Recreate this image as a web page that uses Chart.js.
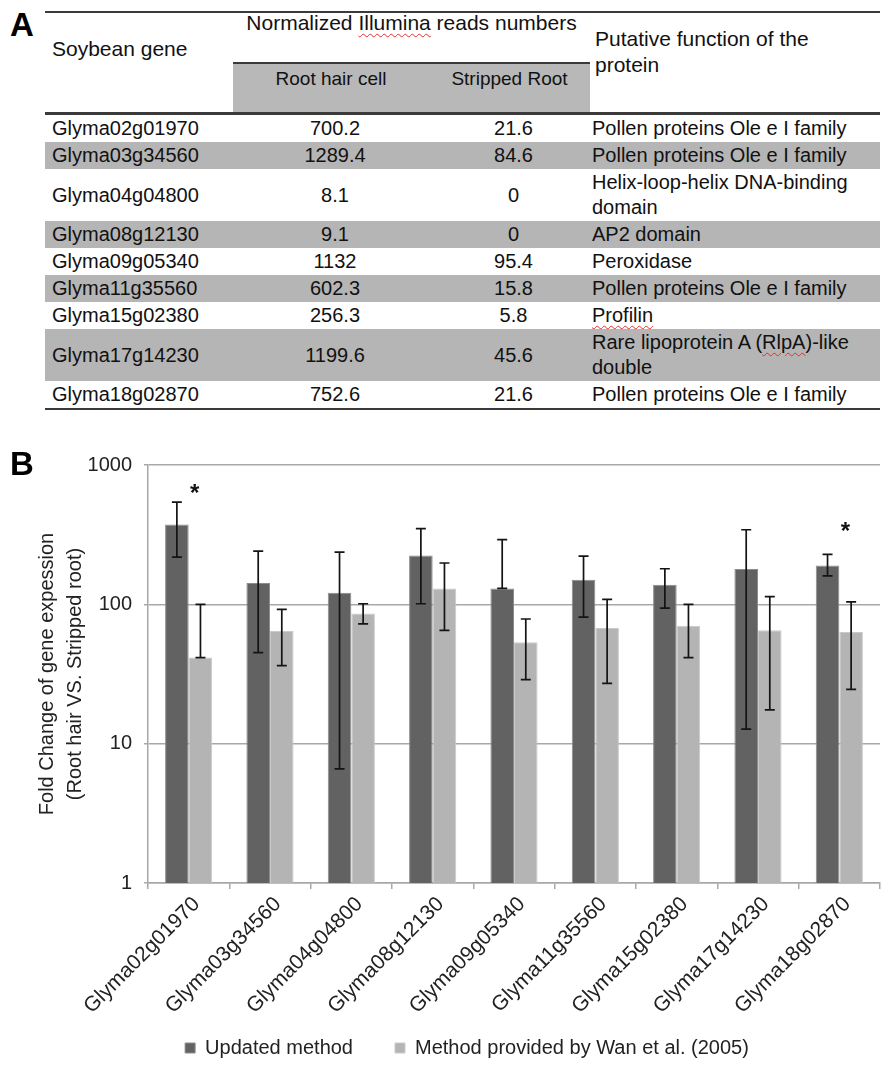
<!DOCTYPE html>
<html>
<head>
<meta charset="utf-8">
<script src="https://cdn.jsdelivr.net/npm/chart.js@4.4.1/dist/chart.umd.min.js"></script>
<style>
body { margin: 0; background: #fff; font-family: "Liberation Sans", Arial, sans-serif; color: #111; }
#page { position: relative; width: 892px; height: 1072px; overflow: hidden; }
.panel { position: absolute; left: 10px; font-weight: bold; font-size: 33px; line-height: 32px; color: #000; z-index: 2; }
.cell { position: absolute; font-size: 21px; }
.sub { font-size: 19px; }
.sp { text-decoration: underline wavy #e03030; text-decoration-thickness: 1px; text-underline-offset: 3px; }
.rule { position: absolute; background: #3a3a3a; }
#rows { position: absolute; left: 45px; top: 115px; width: 835px; }
.row { display: flex; align-items: center; font-size: 20px; line-height: 25px; padding: 1px 0; }
.row.shade { background: #b5b5b5; }
.c-gene { width: 181px; padding-left: 7px; }
.c-root { width: 204px; text-align: center; }
.c-strip { width: 153px; text-align: center; }
.c-func { width: 288px; padding-left: 2px; }
#chart-wrap { position: absolute; left: 0; top: 430px; width: 892px; height: 642px; }
</style>
</head>
<body>
<div id="page">
  <div class="panel" style="top:9px">A</div>
  <div class="panel" style="top:448px">B</div>

  <div class="rule" style="left:45px; top:11px; width:835px; height:2px"></div>
  <div class="cell" style="left:52px; top:37px">Soybean gene</div>
  <div class="cell" style="left:233px; top:11px; width:357px; text-align:center">Normalized <span class="sp">Illumina</span> reads numbers</div>
  <div class="cell" style="left:595px; top:26px; line-height:26px">Putative function of the<br>protein</div>
  <div style="position:absolute; left:233px; top:62px; width:357px; height:51px; background:#b8b8b8; border-top:2px solid #3a3a3a; box-sizing:border-box"></div>
  <div class="cell sub" style="left:233px; top:68px; width:196px; text-align:center">Root hair cell</div>
  <div class="cell sub" style="left:429px; top:68px; width:161px; text-align:center">Stripped Root</div>
  <div class="rule" style="left:45px; top:112px; width:835px; height:3px"></div>
  <div id="rows"></div>
  <div class="rule" id="bottom-rule" style="left:45px; width:835px; height:2px"></div>

  <div id="chart-wrap"><canvas id="chart" width="892" height="642"></canvas></div>
</div>

<script>
// panel A: normalized read numbers
var genes = ['Glyma02g01970', 'Glyma03g34560', 'Glyma04g04800', 'Glyma08g12130', 'Glyma09g05340',
             'Glyma11g35560', 'Glyma15g02380', 'Glyma17g14230', 'Glyma18g02870'];
var rootHairReads = [700.2, 1289.4, 8.1, 9.1, 1132, 602.3, 256.3, 1199.6, 752.6];
var strippedRootReads = [21.6, 84.6, 0, 0, 95.4, 15.8, 5.8, 45.6, 21.6];
var proteinFunctions = ['Pollen proteins Ole e I family', 'Pollen proteins Ole e I family',
                        'Helix-loop-helix DNA-binding domain', 'AP2 domain', 'Peroxidase',
                        'Pollen proteins Ole e I family', '<span class="sp">Profilin</span>',
                        'Rare lipoprotein A (<span class="sp">RlpA</span>)-like double',
                        'Pollen proteins Ole e I family'];

// panel B: fold change (root hair vs stripped root), log scale
var updatedFold = [374, 142, 121, 224, 130, 150, 138, 179, 190];
var updatedLow  = [218, 45, 6.6, 101, 130, 81, 94, 12.7, 160];
var updatedHigh = [541, 241, 237, 349, 291, 222, 180, 343, 228];
var wanFold = [41.5, 64.4, 86, 130, 53.4, 67.6, 70.3, 65.1, 63.3];
var wanLow  = [41.5, 36.3, 72.3, 65, 28.8, 27.1, 41.5, 17.5, 24.5];
var wanHigh = [100, 92, 101, 198, 78.5, 108.6, 100, 113.5, 104];
var significance = ['*', '', '', '', '', '', '', '', '*'];
var significanceAt = [700, null, null, null, null, null, null, null, 368];
var yTicks = [1, 10, 100, 1000];

function buildTable() {
    var rows = document.getElementById('rows');
    for (var i = 0; i < genes.length; i++) {
        var row = document.createElement('div');
        row.className = 'row' + (i % 2 == 1 ? ' shade' : '');
        row.innerHTML = '<div class="c-gene">' + genes[i] + '</div>' +
            '<div class="c-root">' + rootHairReads[i] + '</div>' +
            '<div class="c-strip">' + strippedRootReads[i] + '</div>' +
            '<div class="c-func">' + proteinFunctions[i] + '</div>';
        rows.appendChild(row);
    }
    document.getElementById('bottom-rule').style.top = (115 + rows.offsetHeight) + 'px';
}

buildTable();

var errorBars = {
    id: 'errorBars',
    afterDatasetsDraw: function(chart) {
        var ctx = chart.ctx;
        var y = chart.scales.y;
        chart.data.datasets.forEach(function(ds, di) {
            chart.getDatasetMeta(di).data.forEach(function(bar, i) {
                var top = y.getPixelForValue(ds.errHigh[i]);
                var bottom = y.getPixelForValue(ds.errLow[i]);
                ctx.save();
                ctx.strokeStyle = '#141414';
                ctx.lineWidth = 1.7;
                ctx.beginPath();
                ctx.moveTo(bar.x, top); ctx.lineTo(bar.x, bottom);
                ctx.moveTo(bar.x - 5, top); ctx.lineTo(bar.x + 5, top);
                ctx.moveTo(bar.x - 5, bottom); ctx.lineTo(bar.x + 5, bottom);
                ctx.stroke();
                ctx.restore();
            });
        });
    }
};

var stars = {
    id: 'stars',
    afterDatasetsDraw: function(chart) {
        var ctx = chart.ctx;
        ctx.save();
        ctx.fillStyle = '#111';
        ctx.font = 'bold 24px "Liberation Sans", Arial, sans-serif';
        ctx.textAlign = 'center';
        ctx.textBaseline = 'alphabetic';
        for (var i = 0; i < significance.length; i++) {
            if (!significance[i]) continue;
            var x = chart.scales.x.getPixelForValue(i) + 6;
            var yy = chart.scales.y.getPixelForValue(significanceAt[i]) + 14;
            ctx.fillText(significance[i], x, yy);
        }
        ctx.restore();
    }
};

Chart.defaults.font.family = '"Liberation Sans", Arial, sans-serif';
Chart.defaults.color = '#222';

var chart = new Chart(document.getElementById('chart'), {
    type: 'bar',
    data: {
        labels: genes,
        datasets: [
            {
                label: 'Updated method',
                data: updatedFold,
                errLow: updatedLow,
                errHigh: updatedHigh,
                backgroundColor: '#626262',
                borderColor: '#8c8c8c',
                borderWidth: 1
            },
            {
                label: 'Method provided by Wan et al. (2005)',
                data: wanFold,
                errLow: wanLow,
                errHigh: wanHigh,
                backgroundColor: '#b4b4b4',
                borderColor: '#cacaca',
                borderWidth: 1
            }
        ]
    },
    options: {
        responsive: false,
        animation: false,
        layout: { padding: { left: 54, right: 12, top: 35, bottom: 4 } },
        datasets: { bar: { categoryPercentage: 0.58, barPercentage: 1.0 } },
        scales: {
            x: {
                afterFit: function(scale) {
                    scale.height = 113;
                    // the rotated names run past the axis box into the empty legend padding
                    scale._computeLabelArea = function() { return undefined; };
                },
                ticks: { font: { size: 21 }, color: '#222', minRotation: 45, maxRotation: 45, autoSkip: false, padding: 3, labelOffset: 8 },
                grid: { drawOnChartArea: false, color: '#a8a8a8', lineWidth: 1.5, tickLength: 6 },
                border: { color: '#a8a8a8', width: 1.5 }
            },
            y: {
                type: 'logarithmic',
                min: 1,
                max: 1000,
                afterBuildTicks: function(scale) {
                    scale.ticks = yTicks.map(function(v) { return { value: v }; });
                },
                afterFit: function(scale) { scale.width = 94; },
                ticks: {
                    font: { size: 20 }, color: '#222', padding: 12,
                    callback: function(value) { return String(value); }
                },
                grid: { color: '#a8a8a8', lineWidth: 1.5, tickLength: 4 },
                border: { color: '#a8a8a8', width: 1.5 },
                title: {
                    display: true,
                    text: ['Fold Change of gene expession', '(Root hair VS. Stripped root)'],
                    font: { size: 20, lineHeight: 1.4 },
                    color: '#222',
                    padding: { top: -21, bottom: 0 }
                }
            }
        },
        plugins: {
            legend: {
                position: 'bottom',
                labels: { boxWidth: 10, boxHeight: 10, padding: 42, font: { size: 20 }, color: '#222' }
            },
            tooltip: { enabled: false }
        }
    },
    plugins: [errorBars, stars]
});
</script>
</body>
</html>
